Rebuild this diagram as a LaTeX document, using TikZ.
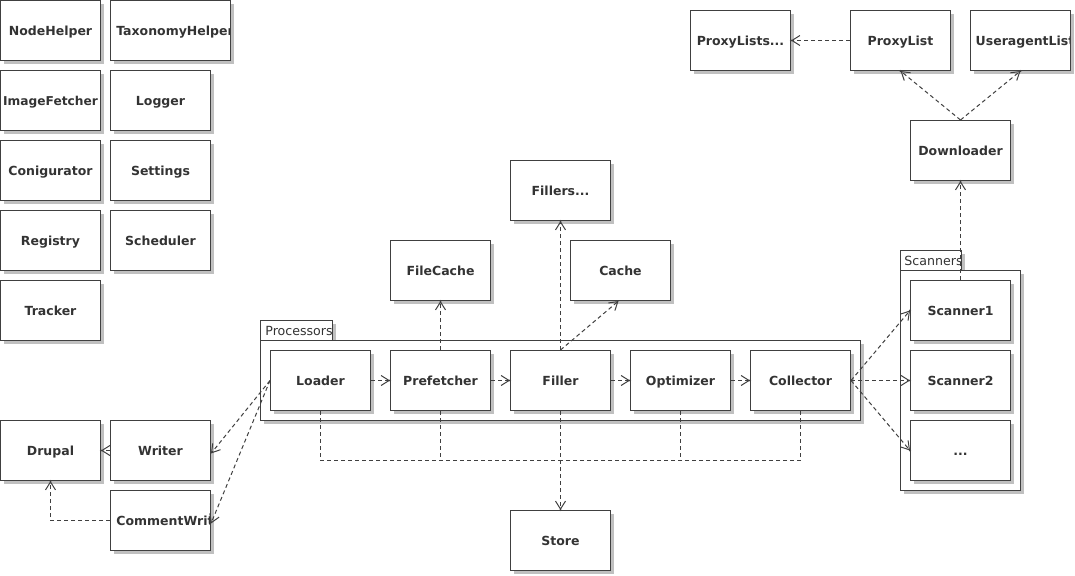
\documentclass[tikz,border=0pt]{standalone}
\usepackage{fontspec}
\setmainfont{DejaVu Sans}
\usetikzlibrary{arrows.meta,shadows}
\definecolor{ln}{HTML}{404040}
\definecolor{tx}{HTML}{333333}
\definecolor{sh}{HTML}{C0C0C0}
\newcommand{\boxfont}{\fontsize{12.5}{14}\selectfont\bfseries}
\newcommand{\tabfont}{\fontsize{12.6}{14}\selectfont}
\tikzset{
  shd/.style={drop shadow={shadow xshift=3.5pt,shadow yshift=-3.5pt,fill=sh,opacity=1,draw=none}},
  box/.style={draw=ln, line width=1pt, fill=white, minimum width=100pt, minimum height=60pt,
    inner sep=0pt, font=\boxfont, text=tx, text height=12.5pt, text depth=2pt, shd},
  widebox/.style={minimum width=120pt},
  cliplabel/.style={path picture={\node[anchor=west, inner sep=0pt, font=\boxfont, text=tx,
      text height=12.5pt, text depth=2pt]
      at ([xshift=4pt]path picture bounding box.west) {#1};}},
  pkg/.style={draw=ln, line width=1pt, fill=white, inner sep=0pt, outer sep=0pt, shd},
  tablabel/.style={path picture={\node[anchor=west, inner sep=0pt, font=\tabfont, text=tx,
      text height=12.5pt, text depth=2pt]
      at ([xshift=2.5pt]path picture bounding box.west) {#1};}},
  dep/.style={draw=ln, line width=1pt, dash pattern=on 4pt off 3pt,
    -{Straight Barb[length=8pt,width=10pt,line width=1pt]}},
  busline/.style={draw=ln, line width=1pt, dash pattern=on 4pt off 3pt},
}
\begin{document}
\begin{tikzpicture}[x=1pt,y=-1pt]
\fill[white] (0,0) rectangle (1075,575);
\useasboundingbox (0,0) rectangle (1075,575);

% left column
\node[box] (nodehelper) at (50.5,30.5) {NodeHelper};
\node[box, widebox, cliplabel=TaxonomyHelper] (taxonomy) at (170.5,30.5) {};
\node[box, font=\fontsize{12.2}{14}\selectfont\bfseries] (imagefetcher) at (50.5,100.5) {ImageFetcher};
\node[box] (logger) at (160.5,100.5) {Logger};
\node[box] (conigurator) at (50.5,170.5) {Conigurator};
\node[box] (settings) at (160.5,170.5) {Settings};
\node[box] (registry) at (50.5,240.5) {Registry};
\node[box] (scheduler) at (160.5,240.5) {Scheduler};
\node[box] (tracker) at (50.5,310.5) {Tracker};

\node[box] (drupal) at (50.5,450.5) {Drupal};
\node[box] (writer) at (160.5,450.5) {Writer};
\node[box, cliplabel=CommentWrit] (commentwrit) at (160.5,520.5) {};

% processors package
\node[pkg, minimum width=72pt, minimum height=20pt, anchor=south west, tablabel=Processors] (proctab) at (260.5,340.5) {};
\node[pkg, minimum width=600pt, minimum height=80pt, anchor=north west] (procbody) at (260.5,340.5) {};
\node[box] (loader) at (320.5,380.5) {Loader};
\node[box] (prefetcher) at (440.5,380.5) {Prefetcher};
\node[box] (filler) at (560.5,380.5) {Filler};
\node[box] (optimizer) at (680.5,380.5) {Optimizer};
\node[box] (collector) at (800.5,380.5) {Collector};

\node[box] (filecache) at (440.5,270.5) {FileCache};
\node[box] (fillers) at (560.5,190.5) {Fillers...};
\node[box] (cache) at (620.5,270.5) {Cache};
\node[box] (store) at (560.5,540.5) {Store};

% scanners package
\node[pkg, minimum width=61pt, minimum height=20pt, anchor=south west, tablabel=Scanners] (scantab) at (900.5,270.5) {};
\node[pkg, minimum width=120pt, minimum height=220pt, anchor=north west] (scanbody) at (900.5,270.5) {};
\node[box] (scanner1) at (960.5,310.5) {Scanner1};
\node[box] (scanner2) at (960.5,380.5) {Scanner2};
\node[box] (scandots) at (960.5,450.5) {...};

% downloader group
\node[box] (downloader) at (960.5,150.5) {Downloader};
\node[box] (proxylists) at (740.5,40.5) {ProxyLists...};
\node[box] (proxylist) at (900.5,40.5) {ProxyList};
\node[box, cliplabel=UseragentList] (useragent) at (1020.5,40.5) {};

% connectors
\draw[dep] (loader.east) -- (prefetcher.west);
\draw[dep] (prefetcher.east) -- (filler.west);
\draw[dep] (filler.east) -- (optimizer.west);
\draw[dep] (optimizer.east) -- (collector.west);

\draw[dep] (prefetcher.north) -- (filecache.south);
\draw[dep] (filler.north) -- (fillers.south);
\draw[dep] (filler.north) -- ([xshift=-2pt]cache.south);

\coordinate (bus) at (560.5,460.5);
\draw[busline] (loader.south) |- (bus);
\draw[busline] (collector.south) |- (bus);
\draw[busline] (prefetcher.south) -- (prefetcher.south |- bus);
\draw[busline] (optimizer.south) -- (optimizer.south |- bus);
\draw[dep] (filler.south) -- (store.north);

\draw[dep] (collector.east) -- (scanner1.west);
\draw[dep] (collector.east) -- (scanner2.west);
\draw[dep] (collector.east) -- (scandots.west);

\draw[dep] (scanner1.north) -- (downloader.south);
\draw[dep] (downloader.north) -- (proxylist.south);
\draw[dep] (downloader.north) -- (useragent.south);
\draw[dep] (proxylist.west) -- (proxylists.east);

\draw[dep] (loader.west) -- ([yshift=-3pt]writer.east);
\draw[dep] (loader.west) -- ([yshift=-3pt]commentwrit.east);
\draw[dep] (writer.west) -- (drupal.east);
\draw[dep] (commentwrit.west) -| (drupal.south);

% tip dots
\foreach \p in {prefetcher.west, filler.west, optimizer.west, collector.west,
  filecache.south, fillers.south, store.north, scanner1.west, scanner2.west,
  scandots.west, downloader.south, proxylist.south, useragent.south,
  proxylists.east, drupal.east, drupal.south}
  \fill[ln] (\p) circle (1.2pt);
\end{tikzpicture}
\end{document}
